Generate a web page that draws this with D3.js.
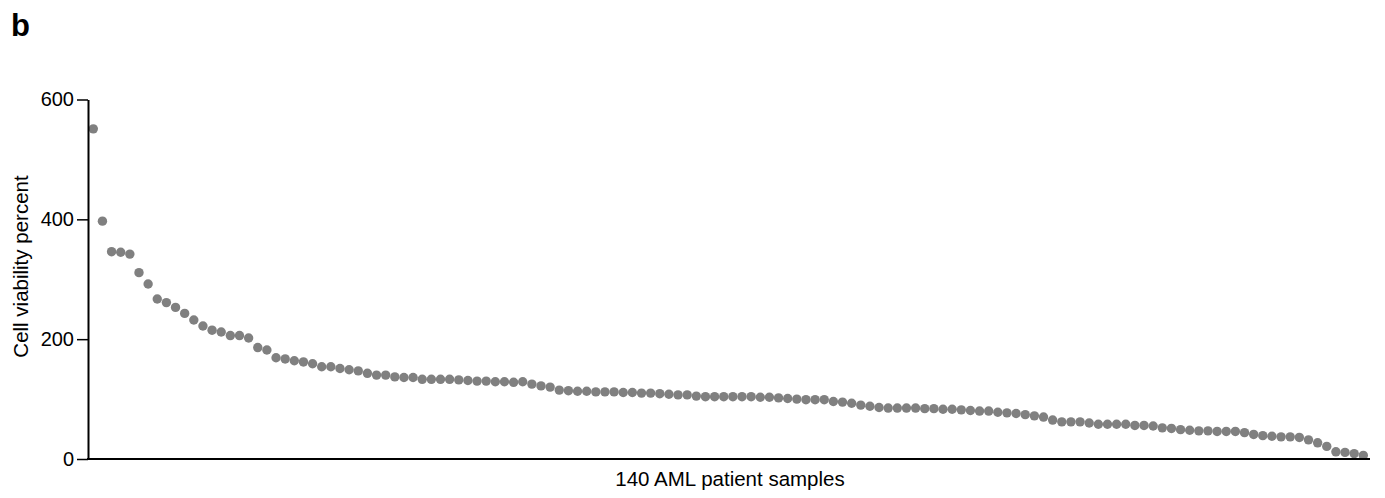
<!DOCTYPE html>
<html>
<head>
<meta charset="utf-8">
<script src="https://cdn.jsdelivr.net/npm/d3@7"></script>
<style>
  body { margin: 0; background: #fff; }
  text { font-family: "Liberation Sans", Arial, Helvetica, sans-serif; }
</style>
</head>
<body>
<div id="chart"></div>
<script>
const width = 1385, height = 498;

// sorted cell viability per sample
const viability = [
  551, 397, 346, 345, 342, 311, 292, 267, 261, 253,
  243, 232, 222, 215, 212, 206, 206, 202, 186, 182,
  169, 167, 164, 162, 159, 154, 154, 151, 149, 147,
  143, 140, 140, 137, 136, 136, 133, 133, 133, 133,
  132, 131, 130, 130, 129, 129, 128, 129, 125, 122,
  120, 115, 114, 113, 113, 112, 112, 112, 111, 111,
  110, 110, 109, 108, 107, 107, 105, 104, 104, 104,
  104, 104, 104, 103, 103, 102, 101, 100, 99, 99,
  99, 96, 95, 93, 90, 88, 86, 85, 85, 85,
  85, 84, 84, 83, 83, 82, 81, 80, 80, 78,
  77, 76, 74, 72, 70, 65, 62, 62, 62, 60,
  58, 58, 58, 58, 56, 56, 55, 52, 51, 49,
  48, 47, 47, 46, 46, 46, 44, 41, 39, 38,
  37, 37, 36, 32, 27, 21, 12, 11, 9, 6
];
const samples = viability.map((v, i) => i + 1);
const yTicks = [0, 200, 400, 600];

const x = d3.scaleLinear()
    .domain([1, samples.length])
    .range([93.3, 1363.3]);

const y = d3.scaleLinear()
    .domain([0, 600])
    .range([459, 99.5]);

const svg = d3.select("#chart").append("svg")
    .attr("width", width)
    .attr("height", height);

svg.append("text")
    .attr("x", 11)
    .attr("y", 36)
    .attr("font-size", 31)
    .attr("font-weight", "bold")
    .text("b");

// dots
svg.append("g")
  .selectAll("circle")
  .data(viability)
  .join("circle")
    .attr("cx", (d, i) => x(samples[i]))
    .attr("cy", d => y(d))
    .attr("r", 4.7)
    .attr("fill", "#808080");

// y axis
const yAxis = svg.append("g")
    .attr("transform", "translate(88,0)")
    .call(d3.axisLeft(y).tickValues(yTicks).tickSize(11).tickSizeOuter(0).tickPadding(3));
yAxis.select(".domain").attr("stroke", "#000").attr("stroke-width", 2);
yAxis.selectAll(".tick line").attr("stroke", "#000").attr("stroke-width", 1.5);
yAxis.selectAll(".tick text")
    .attr("font-size", 20)
    .attr("fill", "#000")
    .style("font-family", '"Liberation Sans", Arial, sans-serif');

// x axis line
svg.append("line")
    .attr("x1", 87)
    .attr("x2", 1370)
    .attr("y1", y(0))
    .attr("y2", y(0))
    .attr("stroke", "#000")
    .attr("stroke-width", 2);

svg.append("text")
    .attr("x", 730)
    .attr("y", 486)
    .attr("text-anchor", "middle")
    .attr("font-size", 20.5)
    .text("140 AML patient samples");

svg.append("text")
    .attr("transform", "translate(28,266.5) rotate(-90)")
    .attr("text-anchor", "middle")
    .attr("font-size", 20.5)
    .text("Cell viability percent");
</script>
</body>
</html>
